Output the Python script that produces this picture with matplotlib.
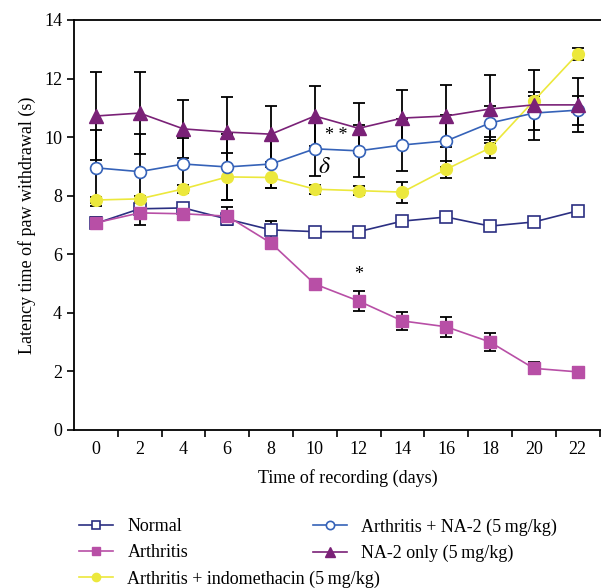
import matplotlib.pyplot as plt
import numpy as np

days = [0, 2, 4, 6, 8, 10, 12, 14, 16, 18, 20, 22]

normal = [7.05, 7.55, 7.58, 7.2, 6.83, 6.77, 6.77, 7.13, 7.27, 6.96, 7.1, 7.48]
normal_err = [0.2, 0.15, 0.1, 0.15, 0.3, 0.1, 0.1, 0.1, 0.1, 0.1, 0.1, 0.1]

arthritis = [7.07, 7.41, 7.38, 7.3, 6.38, 4.98, 4.4, 3.72, 3.52, 3.0, 2.1, 1.98]
arthritis_err = [0.2, 0.4, 0.2, 0.3, 0.1, 0.15, 0.35, 0.3, 0.35, 0.3, 0.2, 0.15]

na2 = [8.95, 8.82, 9.08, 8.98, 9.08, 9.6, 9.53, 9.73, 9.87, 10.48, 10.82, 10.92]
na2_err = [1.3, 1.3, 0.9, 1.14, 0.82, 0.92, 0.9, 0.89, 0.88, 0.57, 0.57, 0.5]

na2_only = [10.72, 10.82, 10.28, 10.17, 10.1, 10.72, 10.3, 10.65, 10.72, 10.96, 11.1, 11.1]
na2_only_err = [1.5, 1.4, 0.98, 1.2, 0.96, 1.02, 0.85, 0.97, 1.07, 1.16, 1.2, 0.93]

indo = [7.85, 7.89, 8.23, 8.64, 8.62, 8.22, 8.17, 8.12, 8.9, 9.63, 11.24, 12.84]
indo_err = [0.1, 0.1, 0.15, 0.8, 0.37, 0.15, 0.15, 0.36, 0.3, 0.36, 0.3, 0.2]

plt.rcParams['font.family'] = ['Liberation Serif', 'DejaVu Serif']
plt.rcParams['mathtext.fontset'] = 'stix'

fig = plt.figure(figsize=(6.01, 5.88), dpi=100)
ax = fig.add_axes([0.123, 0.269, 0.911, 0.697])

series = [
    (normal, normal_err, 'Normal', dict(color='#2b2f82', marker='s', mfc='white', mec='#2b2f82', ms=8.5, mew=1.2)),
    (arthritis, arthritis_err, 'Arthritis', dict(color='#b84fa6', marker='s', mfc='#b84fa6', mec='#b84fa6', ms=8.5)),
    (indo, indo_err, 'Arthritis + indomethacin (5\u2009mg/kg)', dict(color='#ece83c', marker='o', mfc='#ece83c', mec='#ece83c', ms=8.5)),
    (na2, na2_err, 'Arthritis + NA-2 (5\u2009mg/kg)', dict(color='#3562b8', marker='o', mfc='white', mec='#3562b8', ms=8.5, mew=1.2)),
    (na2_only, na2_only_err, 'NA-2 only (5\u2009mg/kg)', dict(color='#7a2177', marker='^', mfc='#7a2177', mec='#7a2177', ms=9.5)),
]

handles = []
for vals, err, label, style in series:
    ax.errorbar(days, vals, yerr=err, fmt='none', ecolor='black', elinewidth=1.3,
                capsize=4, capthick=1.3, zorder=2)
for vals, err, label, style in series:
    h, = ax.plot(days, vals, lw=1.2, label=label, zorder=3, **style)
    handles.append(h)

ax.text(11.0, 9.75, '* *', ha='center', va='bottom', fontsize=13)
ax.text(10.45, 8.95, r'$\delta$', ha='center', va='center', fontsize=17)
ax.text(12.0, 5.0, '*', ha='center', va='bottom', fontsize=13)

ax.set_xlim(-1, 24)
ax.set_ylim(0, 14)
ax.set_yticks(np.arange(0, 15, 2))
ax.set_xticks(np.arange(1, 24, 2))
ax.set_xticklabels([])
ax.set_xticks(days, minor=True)
ax.set_xticklabels([str(d) for d in days], minor=True)
ax.tick_params(axis='x', which='major', direction='out', length=5, width=1.2)
ax.tick_params(axis='x', which='minor', length=0, pad=8, labelsize=13)
ax.tick_params(axis='y', direction='out', length=5, width=1.2, labelsize=13)
ax.spines['right'].set_visible(False)
for s in ['left', 'bottom', 'top']:
    ax.spines[s].set_linewidth(1.3)

ax.set_xlabel('Time of recording (days)', fontsize=13, labelpad=8)
ax.set_ylabel('Latency time of paw withdrawal (s)', fontsize=13, labelpad=6)

leg_kw = dict(loc='upper left', frameon=False, fontsize=13, handlelength=1.9,
              labelspacing=0.5, borderpad=0, handletextpad=0.8, markerscale=0.7)
fig.legend(handles=handles[:3], bbox_to_anchor=(0.116, 0.134), **leg_kw)
fig.legend(handles=handles[3:], bbox_to_anchor=(0.505, 0.134), **leg_kw)

fig.savefig('out.png', dpi=100)
